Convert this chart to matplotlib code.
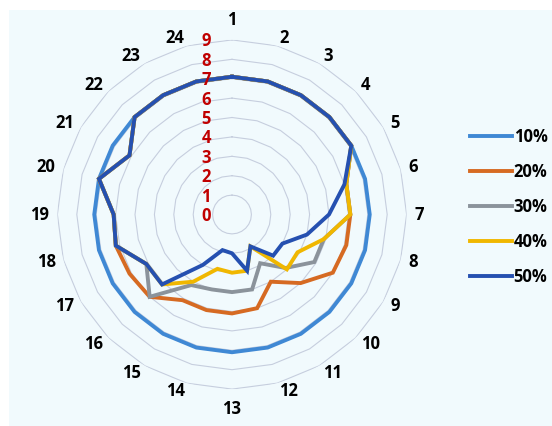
import matplotlib.pyplot as plt
import numpy as np
from matplotlib.patches import Rectangle
from matplotlib.transforms import offset_copy

categories = [str(i) for i in range(1, 25)]
series_names = ['10%', '20%', '30%', '40%', '50%']
s10 = [7.1, 7.1, 7.1, 7.1, 7.1, 7.1, 7.1, 7.1, 7.1, 7.1, 7.1, 7.1,
       7.1, 7.1, 7.1, 7.1, 7.1, 7.1, 7.1, 7.1, 7.1, 7.1, 7.1, 7.1]
s20 = [7.1, 7.1, 7.1, 7.1, 7.1, 6.1, 6.1, 6.1, 6.0, 5.0, 4.0, 5.0,
       5.1, 5.1, 5.1, 6.0, 6.1, 6.2, 6.1, 7.1, 6.1, 7.1, 7.1, 7.1]
s30 = [7.1, 7.1, 7.1, 7.1, 7.1, 6.1, 6.1, 4.9, 4.9, 3.9, 2.9, 4.0,
       4.0, 4.0, 4.2, 6.0, 5.1, 6.2, 6.1, 7.1, 6.1, 7.1, 7.1, 7.1]
s40 = [7.1, 7.1, 7.1, 7.1, 7.1, 6.1, 6.1, 4.9, 3.9, 4.0, 1.9, 3.0,
       3.0, 2.9, 4.0, 5.1, 5.1, 6.2, 6.1, 7.1, 6.1, 7.1, 7.1, 7.1]
s50 = [7.1, 7.1, 7.1, 7.1, 7.1, 6.0, 5.0, 4.0, 3.0, 3.0, 1.9, 3.0,
       2.0, 1.9, 3.0, 5.1, 5.1, 6.2, 6.1, 7.1, 6.1, 7.1, 7.1, 7.1]
r_ticks = [0, 1, 2, 3, 4, 5, 6, 7, 8, 9]

colors = ['#3f88d4', '#d66a22', '#8b939b', '#f0b700', '#2550b0']
grid_color = '#c6cede'

plt.rcParams['font.family'] = ['Open Sans', 'DejaVu Sans']

fig = plt.figure(figsize=(5.52, 4.26), dpi=100)
fig.patch.set_facecolor('white')
bg = Rectangle((9 / 552, 0), 1, 1 - 10 / 426, transform=fig.transFigure,
               facecolor='#f1fafd', edgecolor='none', zorder=-10)
fig.add_artist(bg)

ax = fig.add_axes([57.4 / 552, (426 - 389.1) / 426, 349.2 / 552, 349.2 / 426],
                  projection='polar')
ax.set_zorder(1)
ax.patch.set_alpha(0)
ax.set_theta_zero_location('N')
ax.set_theta_direction(-1)
ax.set_ylim(0, 9)
ax.grid(False)
ax.spines['polar'].set_visible(False)
ax.set_yticks([])
ax.set_xticks([])

n = len(categories)
angles = np.arange(n) * 2 * np.pi / n
closed = np.append(angles, angles[0])

# polygon gridlines
for r in r_ticks[1:]:
    ax.plot(closed, [r] * (n + 1), color=grid_color, lw=0.8, zorder=1)

for name, vals, c in zip(series_names, [s10, s20, s30, s40, s50], colors):
    ax.plot(closed, list(vals) + [vals[0]], color=c, lw=2.8, label=name,
            solid_joinstyle='miter', zorder=3)

# category labels: Excel-style, anchored on the side facing the chart
for a, lab in zip(angles, categories):
    s = np.sin(a)
    if s > 0.01:
        ax.text(a, 9.41, lab, ha='left', va='center', fontsize=12,
                fontweight='bold', color='black')
    elif s < -0.01:
        ax.text(a, 9.41, lab, ha='right', va='center', fontsize=12,
                fontweight='bold', color='black')
    else:
        ax.text(a, 10.05, lab, ha='center', va='center', fontsize=12,
                fontweight='bold', color='black')

tr = offset_copy(ax.transData, fig=fig, x=-26, y=-1.5, units='dots')
for r in r_ticks:
    ax.text(0, r, str(r), transform=tr, ha='center', va='center',
            fontsize=12, fontweight='bold', color='#c00000', zorder=4)

fig.legend(loc='center left', bbox_to_anchor=(462 / 552, 1 - 207 / 426),
           frameon=False, prop={'weight': 'bold', 'size': 12},
           handlelength=2.5, handletextpad=0.1, labelspacing=1.02, borderpad=0)

fig.savefig('out.png', dpi=100)
